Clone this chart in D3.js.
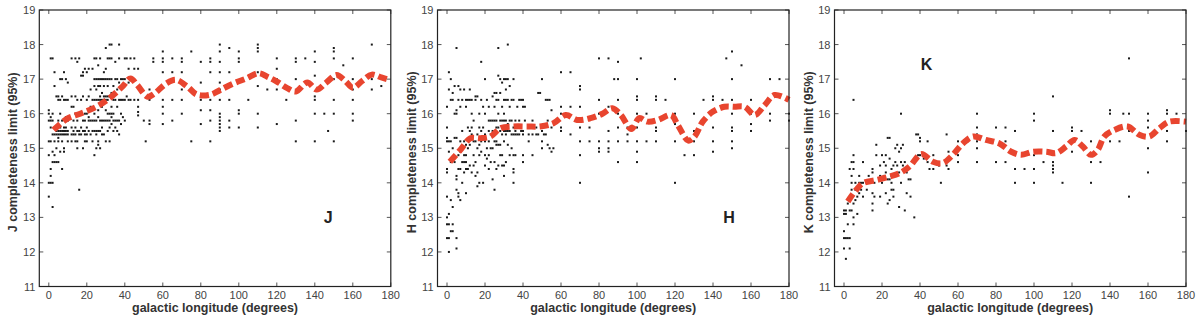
<!DOCTYPE html>
<html>
<head>
<meta charset="utf-8">
<script src="https://cdn.jsdelivr.net/npm/d3@7/dist/d3.min.js"></script>
<style>
  html, body { margin: 0; padding: 0; background: #fff; }
  svg { display: block; }
  text { font-family: "Liberation Sans", Arial, sans-serif; }
</style>
</head>
<body>
<svg id="chart" width="1200" height="324"></svg>
<script>
// Axis ticks shared by the three panels
const xTicks = [0, 20, 40, 60, 80, 100, 120, 140, 160, 180];
const yTicks = [11, 12, 13, 14, 15, 16, 17, 18, 19];
const bands = ["J", "H", "K"];

// Per-field completeness limits, grouped by galactic longitude: [longitude, [limits...]]
const jColumns = [
  [0, [16.1, 16.0, 15.8, 15.2, 14.8, 14.0, 13.6]],
  [1, [17.6, 15.9, 15.8, 15.6, 15.2, 14.0, 14.2, 14.4]],
  [2, [17.6, 16.0, 15.8, 15.4, 14.9, 14.6, 14.0, 13.3]],
  [3, [17.2, 16.8, 15.4, 15.2, 14.6, 14.8]],
  [4, [16.5, 15.5, 15.4, 15.0, 14.6]],
  [5, [16.4, 16.5, 15.8, 15.5, 15.4, 15.3, 15.2, 14.6]],
  [6, [17.0, 16.4, 16.0, 15.6, 15.5, 15.4, 14.9]],
  [7, [17.0, 16.5, 15.8, 15.5, 15.4, 15.2, 14.4]],
  [8, [17.2, 16.4, 15.6, 15.5, 15.4, 15.0, 14.9]],
  [9, [17.0, 16.4, 15.9, 15.6, 15.5, 15.4]],
  [10, [16.9, 16.4, 15.8, 15.5, 15.4, 15.2]],
  [12, [17.6, 16.5, 16.2, 15.6, 15.4, 15.2]],
  [13, [16.2, 15.8, 15.5, 15.4]],
  [14, [17.6, 16.5, 16.0, 15.6, 15.4, 15.2]],
  [15, [17.5, 16.4, 16.0, 15.8, 15.5, 15.2, 15.0]],
  [16, [17.6, 16.0, 15.5, 15.4, 13.8]],
  [17, [17.1, 16.4, 16.0, 15.6, 15.4]],
  [18, [17.2, 17.1, 16.5, 15.8, 15.5, 15.0]],
  [19, [17.3, 16.0, 15.8, 15.5, 15.4, 15.2]],
  [20, [17.2, 16.4, 16.0, 15.6, 15.4, 15.2]],
  [21, [17.3, 16.5, 15.9, 15.8, 15.5]],
  [22, [16.7, 16.2, 15.8, 15.4]],
  [23, [17.3, 16.4, 15.8, 15.5, 15.2]],
  [24, [17.6, 17.0, 16.8, 16.4, 16.0, 15.8, 15.5, 14.8]],
  [25, [17.6, 17.0, 16.7, 16.4, 15.8, 15.5, 15.4, 15.0]],
  [26, [17.4, 17.0, 16.8, 16.4, 16.1, 15.9, 15.5, 15.2, 15.1]],
  [27, [17.6, 17.0, 16.8, 16.5, 16.4, 15.8, 15.5, 15.0]],
  [28, [17.0, 16.6, 16.4, 16.2, 15.8, 15.6, 15.4]],
  [29, [17.2, 17.0, 16.8, 16.5, 16.4, 15.8, 15.4]],
  [30, [17.9, 17.3, 17.0, 16.5, 16.4, 16.1, 15.8, 15.2]],
  [31, [17.6, 17.0, 16.8, 16.5, 16.4, 16.0, 15.8, 15.5]],
  [32, [18.0, 17.6, 17.0, 16.5, 16.0, 15.8, 15.6, 15.2]],
  [33, [18.0, 17.6, 17.0, 16.6, 16.2, 16.0, 15.9, 15.7]],
  [34, [16.8, 16.4, 16.0, 15.8, 15.5]],
  [35, [17.5, 17.0, 16.4, 15.8, 15.6]],
  [36, [17.0, 16.7, 16.2, 15.8, 15.5]],
  [37, [18.0, 17.6, 16.9, 16.4, 15.8, 15.4]],
  [38, [17.0, 16.4, 16.0, 15.7]],
  [39, [17.0, 16.8, 16.4, 15.9]],
  [40, [17.6, 17.0, 16.8, 16.4, 15.8]],
  [41, [17.6, 16.5]],
  [42, [17.3, 16.9, 16.4]],
  [43, [17.6, 17.0, 16.4]],
  [45, [17.6, 17.3, 16.4]],
  [47, [17.3, 16.4, 16.2, 16.05, 15.95]],
  [50, [15.8]],
  [51, [15.2]],
  [53, [16.7, 16.5, 16.4, 15.8, 15.7]],
  [55, [17.6, 17.5]],
  [60, [17.8, 17.6, 17.5, 17.2, 16.4, 16.2, 16.0, 15.7]],
  [65, [17.6, 17.2, 16.4, 15.8]],
  [70, [17.6, 17.5, 17.2, 16.7, 16.4, 16.0]],
  [75, [17.8, 15.2]],
  [80, [17.5, 16.9, 16.4, 16.1, 15.7]],
  [85, [17.6, 17.5, 17.2, 16.4, 16.1, 15.8, 15.2]],
  [90, [18.0, 17.8, 17.5, 17.2, 16.9, 16.7, 16.4, 16.0, 15.9, 15.8, 15.7, 15.6, 15.5]],
  [95, [17.9, 17.2, 16.4, 15.8, 15.6]],
  [100, [17.8, 17.6, 17.5, 16.9, 16.1, 16.0, 15.6]],
  [105, [16.4]],
  [110, [18.0, 17.9, 17.8, 17.2, 16.8, 16.0, 15.6]],
  [115, [16.7]],
  [120, [17.6, 17.3, 17.0, 16.7, 15.7]],
  [125, [16.4]],
  [130, [17.6, 17.5, 17.0, 15.8, 15.2]],
  [135, [17.6]],
  [140, [17.8, 17.5, 17.1, 16.5, 16.4, 16.0, 15.2]],
  [145, [16.0]],
  [147, [15.5]],
  [150, [17.9, 17.8, 17.6, 17.0, 16.4, 16.0, 15.2]],
  [155, [17.4]],
  [160, [17.6, 17.0, 16.7, 16.4, 16.0, 15.8]],
  [170, [18.0, 17.0, 16.7]],
  [175, [16.8]]
];

const hColumns = [
  [0, [16.2, 15.6, 15.3, 15.2, 14.4, 14.3, 13.6, 13.0, 12.8, 12.4]],
  [1, [17.2, 16.7, 15.2, 14.9, 13.1, 12.8, 12.4, 12.0]],
  [2, [17.0, 16.4, 15.2, 14.6, 13.5, 12.6]],
  [3, [16.6, 16.4, 15.0, 14.7, 13.3, 12.8, 12.6]],
  [4, [16.8, 16.0, 15.3, 14.6]],
  [5, [17.9, 16.1, 16.0, 15.3, 14.2, 14.1, 13.8, 12.4, 12.1]],
  [6, [16.8, 16.4, 14.8, 14.4, 13.7, 13.6]],
  [7, [16.7, 16.2, 15.2, 15.0, 14.9, 14.4, 13.5]],
  [8, [16.4, 15.5, 15.0, 14.6, 14.0]],
  [9, [16.7, 15.2, 14.8, 14.6, 14.3]],
  [10, [16.4, 16.2, 15.1, 14.8, 14.6, 14.4, 13.7]],
  [11, [16.4, 15.6, 15.0, 14.4]],
  [12, [16.7, 16.4, 15.5, 15.1, 14.5]],
  [13, [16.4, 16.0, 15.6, 15.4, 14.3]],
  [14, [15.8, 15.2, 14.8, 14.5]],
  [15, [16.5, 16.4, 15.2, 14.6, 14.2]],
  [16, [16.5, 15.4, 15.0, 14.3, 13.9]],
  [17, [16.0, 15.6, 15.1, 14.8, 14.0]],
  [18, [17.5, 16.4, 15.5, 15.2, 14.9]],
  [19, [16.2, 15.6, 15.3, 14.0]],
  [20, [17.0, 16.0, 15.4, 15.2, 14.8, 14.5]],
  [21, [16.4, 15.0, 14.7]],
  [22, [16.2, 15.8, 15.5, 15.2, 14.8, 14.4]],
  [23, [15.8, 15.4, 15.0, 14.6]],
  [24, [16.5, 15.8, 15.5, 15.0, 14.1]],
  [25, [16.6, 16.2, 15.8, 15.4, 15.2, 14.6, 13.8]],
  [26, [16.6, 16.4, 15.8, 15.6, 15.2, 15.1, 14.4]],
  [27, [17.9, 17.1, 16.4, 16.0, 15.6, 15.1, 14.5]],
  [28, [17.0, 16.6, 15.8, 15.5, 15.1, 14.8]],
  [29, [16.9, 16.2, 15.8, 15.4, 14.8, 14.5]],
  [30, [17.0, 16.4, 16.0, 15.8, 15.5, 15.2, 14.5, 14.2]],
  [31, [17.0, 16.7, 16.4, 15.8, 15.5, 15.4, 14.6]],
  [32, [18.0, 17.0, 16.4, 15.7, 15.5, 15.1]],
  [33, [16.8, 16.2, 15.8, 15.5, 14.8]],
  [34, [16.4, 15.8, 15.4, 15.0]],
  [35, [17.0, 16.4, 15.6, 15.4, 14.8, 14.4, 14.3, 14.0]],
  [36, [15.8, 15.5, 15.4, 14.8]],
  [37, [16.2, 15.6, 15.4]],
  [38, [16.4, 15.8, 15.4]],
  [39, [16.4, 15.5]],
  [40, [16.4, 16.2, 15.5, 15.4, 14.8, 14.6]],
  [41, [16.2, 15.8]],
  [43, [15.4, 15.2]],
  [45, [15.8, 15.4, 14.8]],
  [47, [15.6, 15.4]],
  [48, [16.6, 15.4]],
  [49, [16.6]],
  [50, [17.0, 15.6, 15.5, 15.2, 15.0]],
  [51, [15.4]],
  [52, [16.4, 15.4]],
  [53, [16.4, 15.8, 15.1]],
  [54, [16.4, 15.0]],
  [55, [16.1, 15.6, 14.9]],
  [56, [15.0]],
  [60, [17.2, 16.2, 16.0, 15.6, 15.5]],
  [65, [17.2, 16.2, 15.4]],
  [70, [16.8, 16.7, 16.2, 15.6, 15.2, 14.8, 14.0]],
  [75, [15.6, 15.2]],
  [80, [17.6, 16.4, 16.0, 15.2, 15.0, 14.9]],
  [85, [17.6, 16.2, 15.5, 15.2, 15.0, 14.9]],
  [88, [17.0]],
  [90, [17.5, 17.0, 16.4, 16.0, 15.6, 15.2, 14.6]],
  [95, [15.6, 15.4, 15.2]],
  [100, [17.0, 16.5, 16.4, 16.0, 15.6, 15.2, 14.9, 14.6]],
  [102, [17.6]],
  [105, [16.0, 15.2]],
  [110, [16.5, 16.4, 15.6, 15.5, 15.2]],
  [115, [16.4]],
  [120, [17.0, 16.0, 15.7, 15.2, 14.0]],
  [125, [14.8]],
  [130, [16.0, 15.5, 15.2, 14.8]],
  [135, [16.4]],
  [140, [16.5, 16.4, 15.6, 15.2, 14.9]],
  [145, [16.4]],
  [147, [17.6]],
  [150, [17.8, 17.0, 16.4, 16.0, 15.6, 15.5, 15.2, 15.0]],
  [155, [17.4]],
  [160, [16.4, 16.0, 15.7, 15.5]],
  [170, [17.0, 16.0, 15.8]],
  [175, [17.0]],
  [180, [16.0, 15.8]]
];

const kColumns = [
  [0, [13.2, 13.1, 12.6, 12.4, 12.1]],
  [1, [13.2, 13.1, 12.4, 11.8]],
  [2, [13.4, 12.8, 12.4]],
  [3, [14.4, 13.2, 12.4, 12.1]],
  [4, [14.6, 14.2, 14.0, 13.8, 13.2]],
  [5, [16.4, 14.8, 14.6, 14.4, 13.4, 13.0, 12.8]],
  [6, [14.0, 13.8, 13.5]],
  [7, [13.8, 13.6, 13.1]],
  [8, [14.2, 14.0, 13.7]],
  [9, [14.0, 13.8]],
  [10, [14.6, 14.0, 13.6]],
  [12, [14.0, 13.8]],
  [13, [14.2]],
  [15, [14.4, 14.3, 13.7, 13.4, 13.2]],
  [16, [14.0, 13.6]],
  [17, [15.1, 14.8]],
  [19, [14.5, 14.2, 13.6]],
  [20, [14.8, 14.0]],
  [21, [14.6, 14.2]],
  [22, [14.8, 14.5, 14.3, 13.7]],
  [23, [15.3, 14.1, 13.4]],
  [24, [15.3, 14.7, 14.1, 13.5]],
  [25, [14.4, 14.2, 14.0, 13.8]],
  [26, [14.5, 13.8, 13.6]],
  [27, [15.0, 14.6]],
  [28, [15.1, 14.5]],
  [29, [14.9, 14.3, 13.3]],
  [30, [16.0, 15.0, 14.6, 14.0]],
  [31, [15.1, 14.5]],
  [32, [14.6, 13.2]],
  [33, [14.3, 13.7]],
  [34, [14.1]],
  [35, [14.1, 13.6]],
  [37, [13.0]],
  [38, [15.4]],
  [39, [15.4, 14.8]],
  [40, [15.3, 15.2, 14.8]],
  [42, [14.7]],
  [44, [15.2, 14.6]],
  [45, [14.4]],
  [47, [14.8, 14.4]],
  [50, [14.6, 14.5]],
  [51, [14.0]],
  [54, [15.4, 14.5]],
  [55, [14.9, 14.4]],
  [60, [15.2, 14.8, 14.6]],
  [65, [15.2]],
  [70, [16.0, 15.6, 15.4, 15.2, 15.0, 14.6]],
  [80, [15.6, 14.6]],
  [85, [15.6, 15.2, 14.6]],
  [90, [15.5, 14.4, 14.0]],
  [95, [14.4]],
  [100, [16.0, 15.8, 14.8, 14.4, 14.0]],
  [105, [14.6]],
  [110, [16.5, 15.5, 14.6, 14.5, 14.4, 14.3]],
  [115, [14.0]],
  [120, [15.6, 15.5, 14.9]],
  [125, [15.5]],
  [130, [15.2, 14.6, 14.0]],
  [135, [14.6]],
  [140, [16.1, 16.0, 15.2]],
  [145, [15.2]],
  [147, [16.0]],
  [150, [17.6, 16.0, 15.5, 13.6]],
  [160, [16.0, 15.8, 15.6, 15.0, 14.3]],
  [170, [16.1, 16.0, 15.5, 15.2]],
  [175, [16.0]],
  [180, [15.5]]
];

// Smoothed completeness trend along longitude for each band
const jTrendLon = [2.5, 9.5, 16.5, 25, 32, 39, 43, 46.5, 52, 55.5, 62, 67, 73, 78, 85, 90, 97, 104, 110.5, 115, 120, 125.5, 130, 136, 141, 146, 151.5, 156, 160, 165, 170, 175, 180];
const jTrendMag = [15.53, 15.85, 16.0, 16.2, 16.45, 16.8, 17.02, 16.83, 16.49, 16.58, 16.88, 16.98, 16.78, 16.55, 16.55, 16.68, 16.87, 17.02, 17.17, 17.07, 16.93, 16.74, 16.64, 16.9, 16.7, 16.9, 17.12, 16.95, 16.75, 16.95, 17.13, 17.05, 16.97];

const hTrendLon = [1.5, 7, 12.3, 17.6, 22.9, 28.2, 35, 42, 49, 56, 62.5, 68.5, 75.5, 81.8, 87, 91.5, 97, 101.2, 105.6, 111, 118, 121.5, 127, 130.2, 134.6, 140, 146, 151.3, 156.6, 162, 167.2, 172.4, 180];
const hTrendMag = [14.61, 14.95, 15.29, 15.29, 15.34, 15.58, 15.63, 15.63, 15.63, 15.72, 15.96, 15.82, 15.87, 16.0, 16.16, 15.96, 15.56, 15.87, 15.77, 15.82, 15.96, 15.67, 15.22, 15.33, 15.77, 16.06, 16.2, 16.2, 16.2, 15.96, 16.25, 16.54, 16.4];

const kTrendLon = [2, 6.5, 10, 17, 24, 29.3, 34.5, 40.7, 46.8, 52, 57.3, 62.6, 68, 74.8, 81.8, 88, 93.2, 99.4, 106.4, 111.6, 116.9, 121.3, 125.7, 130, 133.5, 137, 142.3, 149.3, 155.4, 160.7, 166, 171.2, 180];
const kTrendMag = [13.46, 13.8, 13.99, 14.08, 14.18, 14.28, 14.47, 14.83, 14.61, 14.57, 14.81, 15.14, 15.34, 15.24, 15.14, 14.9, 14.81, 14.9, 14.9, 14.86, 15.05, 15.24, 15.05, 14.81, 14.95, 15.34, 15.53, 15.63, 15.39, 15.34, 15.58, 15.77, 15.77];

// Band letter placed inside each panel, in data coordinates
const labelLon = [147, 148.5, 43.5];
const labelMag = [13.0, 13.0, 17.45];

const panels = [
  { band: bands[0], cols: jColumns, tLon: jTrendLon, tMag: jTrendMag, left: 39.3 },
  { band: bands[1], cols: hColumns, tLon: hTrendLon, tMag: hTrendMag, left: 437.5 },
  { band: bands[2], cols: kColumns, tLon: kTrendLon, tMag: kTrendMag, left: 834.5 }
];

const plotW = 351.5, plotTop = 10, plotBottom = 286.5;
const svg = d3.select("#chart");

panels.forEach((p, i) => {
  const x = d3.scaleLinear().domain([-5, 180]).range([p.left, p.left + plotW]);
  const y = d3.scaleLinear().domain([11, 19]).range([plotBottom, plotTop]);
  const g = svg.append("g");

  // Inward ticks on all four sides
  const tl = 4;
  const tickCol = "#555";
  g.selectAll(".xtb").data(xTicks).join("line")
    .attr("x1", d => x(d)).attr("x2", d => x(d))
    .attr("y1", plotBottom).attr("y2", plotBottom - tl)
    .attr("stroke", tickCol).attr("stroke-width", 1);
  g.selectAll(".xtt").data(xTicks).join("line")
    .attr("x1", d => x(d)).attr("x2", d => x(d))
    .attr("y1", plotTop).attr("y2", plotTop + tl)
    .attr("stroke", tickCol).attr("stroke-width", 1);
  g.selectAll(".ytl").data(yTicks).join("line")
    .attr("x1", x(-5)).attr("x2", x(-5) + tl)
    .attr("y1", d => y(d)).attr("y2", d => y(d))
    .attr("stroke", tickCol).attr("stroke-width", 1);
  g.selectAll(".ytr").data(yTicks).join("line")
    .attr("x1", x(180)).attr("x2", x(180) - tl)
    .attr("y1", d => y(d)).attr("y2", d => y(d))
    .attr("stroke", tickCol).attr("stroke-width", 1);

  // Tick labels
  g.selectAll(".xl").data(xTicks).join("text")
    .attr("x", d => x(d)).attr("y", 299)
    .attr("text-anchor", "middle")
    .attr("font-size", 11).attr("fill", "#444")
    .text(d => d);
  g.selectAll(".yl").data(yTicks).join("text")
    .attr("x", x(-5) - 4).attr("y", d => y(d) + 4)
    .attr("text-anchor", "end")
    .attr("font-size", 11).attr("fill", "#444")
    .text(d => d);

  // Scatter of field limits
  const pts = p.cols.flatMap(([lon, mags]) => mags.map(m => [lon, m]));
  g.selectAll(".pt").data(pts).join("rect")
    .attr("x", d => x(d[0]) - 1).attr("y", d => y(d[1]) - 1)
    .attr("width", 2).attr("height", 2)
    .attr("fill", "#1a1a1a");

  // Dashed trend curve
  const line = d3.line()
    .x(d => x(d[0])).y(d => y(d[1]))
    .curve(d3.curveCatmullRom.alpha(0.5));
  g.append("path")
    .datum(p.tLon.map((l, k) => [l, p.tMag[k]]))
    .attr("d", line)
    .attr("fill", "none")
    .attr("stroke", "#e8452f")
    .attr("stroke-width", 6)
    .attr("stroke-dasharray", "9,4");

  // Frame
  g.append("rect")
    .attr("x", x(-5)).attr("y", plotTop)
    .attr("width", x(180) - x(-5)).attr("height", plotBottom - plotTop)
    .attr("fill", "none").attr("stroke", "#222").attr("stroke-width", 1.2);

  // Band letter
  g.append("text")
    .attr("x", x(labelLon[i])).attr("y", y(labelMag[i]) + 6)
    .attr("text-anchor", "middle")
    .attr("font-size", 16).attr("font-weight", "bold").attr("fill", "#222")
    .text(p.band);

  // Axis titles
  g.append("text")
    .attr("x", (x(-5) + x(180)) / 2).attr("y", 312)
    .attr("text-anchor", "middle")
    .attr("font-size", 12.5).attr("font-weight", "bold").attr("fill", "#333")
    .text("galactic longitude (degrees)");
  g.append("text")
    .attr("transform", `translate(${x(-5) - 22},${(plotTop + plotBottom) / 2 + 4}) rotate(-90)`)
    .attr("text-anchor", "middle")
    .attr("font-size", 12.5).attr("font-weight", "bold").attr("fill", "#333")
    .text(`${p.band} completeness limit (95%)`);
});
</script>
</body>
</html>
